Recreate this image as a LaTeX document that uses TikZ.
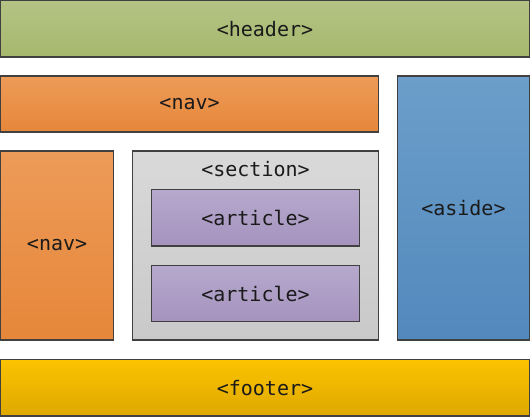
\documentclass[tikz,border=0pt]{standalone}
\usepackage{fontspec}
\setmonofont{DejaVu Sans Mono}
\definecolor{bordc}{HTML}{404040}
\definecolor{txtc}{HTML}{1A1A1A}
\definecolor{hdrT}{HTML}{B4C385}
\definecolor{hdrB}{HTML}{A6B86D}
\definecolor{navT}{HTML}{ED9B58}
\definecolor{navB}{HTML}{E6873A}
\definecolor{secT}{HTML}{D9D9D9}
\definecolor{secB}{HTML}{C9C9C9}
\definecolor{artT}{HTML}{B6A9CD}
\definecolor{artB}{HTML}{A593BE}
\definecolor{asdT}{HTML}{6C9EC9}
\definecolor{asdB}{HTML}{5289BD}
\definecolor{ftrT}{HTML}{FCC300}
\definecolor{ftrB}{HTML}{DEA800}
\begin{document}
\begin{tikzpicture}[x=1pt,y=-1pt,
  box/.style={draw=bordc, line width=1.3pt, inner sep=0pt, outer sep=0pt,
    font=\fontsize{20}{23}\selectfont\ttfamily, text=txtc},
  lbl/.style={inner sep=0pt, font=\fontsize{20}{23}\selectfont\ttfamily, text=txtc}]
\useasboundingbox (0,0) rectangle (530,417);
\newcommand{\boxat}[7]{%
  \node[box, top color=#6, bottom color=#7, minimum width=#4-#2, minimum height=#5-#3]
    (#1) at ({(#2+#4)/2},{(#3+#5)/2}) {};}
\boxat{header}{0.7}{0.7}{529.3}{57}{hdrT}{hdrB}
\boxat{navtop}{0.7}{76}{378.5}{132}{navT}{navB}
\boxat{navleft}{0.7}{151}{113.5}{340}{navT}{navB}
\boxat{section}{132.5}{151}{378.5}{340}{secT}{secB}
\boxat{art1}{151.5}{189.5}{359.5}{246}{artT}{artB}
\boxat{art2}{151.5}{265.5}{359.5}{321.5}{artT}{artB}
\boxat{aside}{397.5}{76}{529.3}{340}{asdT}{asdB}
\boxat{footer}{0.7}{359.5}{529.3}{416}{ftrT}{ftrB}
\node[lbl] (headerlbl) at (header) {<header>};
\node[lbl] (navtoplbl) at (navtop) {<nav>};
\node[lbl] (navleftlbl) at (navleft) {<nav>};
\node[lbl] (sectionlbl) at (255.5,169) {<section>};
\node[lbl] (art1lbl) at (art1) {<article>};
\node[lbl] (art2lbl) at (art2) {<article>};
\node[lbl] (asidelbl) at (aside) {<aside>};
\node[lbl] (footerlbl) at (footer) {<footer>};
\end{tikzpicture}
\end{document}
